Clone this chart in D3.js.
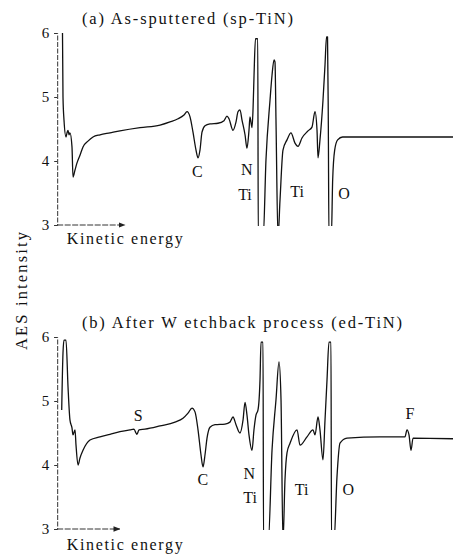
<!DOCTYPE html>
<html>
<head>
<meta charset="utf-8">
<script src="https://cdn.jsdelivr.net/npm/d3@7"></script>
<style>
  html, body { margin: 0; padding: 0; background: #fff; }
  svg { display: block; }
  text { font-family: "Liberation Serif", "DejaVu Serif", serif; fill: #111; }
</style>
</head>
<body>
<svg id="chart" width="453" height="559"></svg>
<script>
// ---------------- DATA ----------------
// Kinetic energy (eV) and AES intensity (arb. units), panel (a) as-sputtered
const energyA = [29.5, 30.4, 32.2, 35.8, 37.6, 39.4, 41.2, 42.9, 46.5, 48.3, 51.9, 55.5, 60.8, 66.2, 75.1, 84.1, 96.6,
  114.5, 132.4, 168.2, 204.0, 221.9, 236.2, 246.9, 252.3, 257.7, 263.0, 268.4, 272.0, 275.5, 279.1, 284.5, 293.4,
  307.7, 318.5, 323.8, 327.4, 334.6, 340.0, 343.5, 347.1, 350.7, 356.1, 359.6, 363.2, 365.0, 368.6, 370.4, 372.1,
  374.8, 378.9, 379.8,
  388.6, 393.6, 400.8, 404.4, 408.0, 409.7, 411.5, 415.1, 418.7, 424.0, 431.2, 438.3, 445.5, 450.9, 458.0, 468.8,
  475.9, 481.3, 484.9, 486.7, 490.2, 495.6, 499.2, 501.9, 503.7, 505.1, 506.3,
  510.5, 512.9, 516.5, 521.8, 530.7, 561.8, 633.4, 728.2];
const intensityA = [6.0, 5.0, 4.64, 4.375, 4.44, 4.48, 4.41, 4.44, 4.22, 3.75, 3.86, 3.97, 4.09, 4.22, 4.31, 4.375, 4.41,
  4.44, 4.47, 4.52, 4.56, 4.61, 4.66, 4.72, 4.77, 4.69, 4.45, 4.17, 4.05, 4.17, 4.45, 4.55, 4.58,
  4.59, 4.63, 4.70, 4.66, 4.48, 4.61, 4.77, 4.80, 4.64, 4.41, 4.20, 4.48, 4.69, 4.52, 4.80, 5.30,
  5.91, 5.91, 2.8,
  2.8, 4.02, 4.95, 5.34, 5.58, 5.55, 4.64, 2.8, 3.39, 4.17, 4.33, 4.44, 4.28, 4.23, 4.36, 4.47,
  4.53, 4.77, 4.48, 4.05, 4.33, 4.95, 5.5, 5.94, 5.94, 4.64, 2.8,
  2.8, 3.70, 4.17, 4.33, 4.375, 4.375, 4.375, 4.375];

// Panel (b) after W etchback
const energyB = [28.1, 30.4, 32.2, 35.8, 39.4, 42.9, 46.5, 48.3, 51.9, 53.7, 57.3, 60.8, 66.2, 78.7, 96.6, 114.5, 132.4,
  150.3, 157.4, 161.0, 162.8, 166.4, 177.1, 204.0, 230.8, 245.1, 254.1, 261.2, 266.6, 272.0, 277.3, 280.9, 284.5,
  288.1, 293.4, 302.4, 320.3, 329.2, 334.6, 340.0, 347.1, 352.5, 356.1, 359.6, 363.2, 368.6, 372.1, 375.7, 379.3,
  382.9, 384.7, 388.3, 389.2,
  397.7, 404.4, 411.5, 416.9, 420.5, 424.0, 427.6, 431.2, 436.6, 449.1, 454.5, 467.0, 477.7, 481.3, 486.7, 490.2,
  495.6, 499.2, 502.8, 506.3, 509.9, 510.8,
  515.3, 520.6, 526.0, 538.5, 597.6, 642.3, 645.9, 649.5, 653.1, 656.7, 728.2];
const intensityB = [4.86, 5.75, 5.95, 5.95, 5.22, 4.70, 4.58, 4.47, 4.55, 4.31, 4.0, 4.11, 4.23, 4.39, 4.44, 4.48, 4.52,
  4.55, 4.56, 4.50, 4.48, 4.55, 4.56, 4.61, 4.67, 4.73, 4.81, 4.89, 4.83, 4.55, 4.16, 3.97, 4.16,
  4.42, 4.59, 4.63, 4.64, 4.67, 4.75, 4.63, 4.50, 4.70, 4.98, 4.78, 4.47, 4.23, 4.55, 4.78, 4.86,
  5.33, 5.92, 5.92, 2.8,
  2.8, 4.23, 5.02, 5.61, 5.02, 2.8, 3.77, 4.19, 4.34, 4.55, 4.31, 4.44, 4.55, 4.47, 4.75, 4.55,
  4.08, 4.70, 5.33, 5.92, 5.92, 2.8,
  2.8, 3.81, 4.34, 4.42, 4.44, 4.44, 4.55, 4.47, 4.23, 4.42, 4.41];

const yTickValues = [3, 4, 5, 6];
const titleA = "(a)  As-sputtered  (sp-TiN)";
const titleB = "(b)  After W etchback process (ed-TiN)";
const xAxisTitle = "Kinetic energy";
const yAxisTitle = "AES intensity";

// Peak annotations: text, energy (eV), intensity position
const peakTextA = ["C", "N", "Ti", "Ti", "O"];
const peakEnergyA = [270.7, 359.1, 356.0, 449.1, 533.2];
const peakLevelA = [3.83, 3.87, 3.48, 3.52, 3.50];
const peakTextB = ["S", "C", "N", "Ti", "Ti", "O", "F"];
const peakEnergyB = [165.1, 280.4, 363.7, 365.0, 457.5, 540.9, 651.3];
const peakLevelB = [4.78, 3.78, 3.875, 3.5, 3.61, 3.61, 4.81];

// ---------------- DRAW ----------------
const svg = d3.select("#chart");
const x = d3.scaleLinear().domain([0, 730]).range([46, 454]);
const axisEnergy = 20;

const defs = svg.append("defs");
defs.append("marker").attr("id", "arrow").attr("viewBox", "0 0 10 10")
  .attr("refX", 9).attr("refY", 5).attr("markerWidth", 7).attr("markerHeight", 7)
  .attr("markerUnits", "userSpaceOnUse").attr("orient", "auto")
  .append("path").attr("d", "M0,1 L10,5 L0,9 Z").attr("fill", "#222");

function panel(cfg) {
  const y = d3.scaleLinear().domain([3, 6]).range([cfg.bottom, cfg.top]);
  const g = svg.append("g");
  const x0 = x(axisEnergy);

  const clipId = "clip" + cfg.id;
  defs.append("clipPath").attr("id", clipId).append("rect")
    .attr("x", x0).attr("y", 0).attr("width", 453 - x0).attr("height", y(3) + 1);

  // y axis
  const yAxis = d3.axisLeft(y).tickValues(yTickValues).tickSize(3).tickPadding(5).tickFormat(d3.format("d"));
  const ag = g.append("g").attr("transform", `translate(${x0},0)`).call(yAxis);
  ag.select(".domain").attr("stroke", "#333").attr("stroke-width", 1).attr("stroke-dasharray", "5,1.5");
  ag.selectAll(".tick line").attr("stroke", "#333");
  ag.selectAll(".tick text").attr("font-family", "Liberation Serif, serif").attr("font-size", 15).attr("fill", "#111");

  // x arrow
  g.append("line").attr("x1", x0).attr("x2", x(cfg.arrowEnd)).attr("y1", y(3)).attr("y2", y(3))
    .attr("stroke", "#333").attr("stroke-width", 1).attr("stroke-dasharray", "6,1.5")
    .attr("marker-end", "url(#arrow)");

  g.append("text").attr("x", x(37)).attr("y", y(3) + cfg.xLabelDy)
    .attr("font-size", 16).attr("textLength", 116).attr("lengthAdjust", "spacing").text(xAxisTitle);

  // title
  g.append("text").attr("x", 82).attr("y", cfg.titleY)
    .attr("font-size", 16.5).attr("textLength", cfg.titleLen).attr("lengthAdjust", "spacing").text(cfg.title);

  // spectrum
  const pts = cfg.energy.map((e, i) => [e, cfg.intensity[i]]);
  const line = d3.line().x(d => x(d[0])).y(d => y(d[1])).curve(d3.curveMonotoneX);
  g.append("path").datum(pts).attr("clip-path", `url(#${clipId})`)
    .attr("d", line).attr("fill", "none").attr("stroke", "#111")
    .attr("stroke-width", 1.3).attr("stroke-linejoin", "round");

  // peak labels
  g.selectAll("text.peak").data(cfg.peakText).join("text").attr("class", "peak")
    .attr("x", (d, i) => x(cfg.peakEnergy[i])).attr("y", (d, i) => y(cfg.peakLevel[i]))
    .attr("text-anchor", "middle").attr("dominant-baseline", "central")
    .attr("font-size", 16).text(d => d);
}

panel({ id: "a", top: 33, bottom: 225, energy: energyA, intensity: intensityA, title: titleA, titleY: 24,
  titleLen: 211, arrowEnd: 141, xLabelDy: 19, peakText: peakTextA, peakEnergy: peakEnergyA, peakLevel: peakLevelA });
panel({ id: "b", top: 337, bottom: 529, energy: energyB, intensity: intensityB, title: titleB, titleY: 328,
  titleLen: 320, arrowEnd: 132, xLabelDy: 21, peakText: peakTextB, peakEnergy: peakEnergyB, peakLevel: peakLevelB });

// y axis title
svg.append("text").attr("transform", "translate(27,291) rotate(-90)").attr("text-anchor", "middle")
  .attr("font-size", 16.5).attr("textLength", 118).attr("lengthAdjust", "spacing").text(yAxisTitle);
</script>
</body>
</html>
